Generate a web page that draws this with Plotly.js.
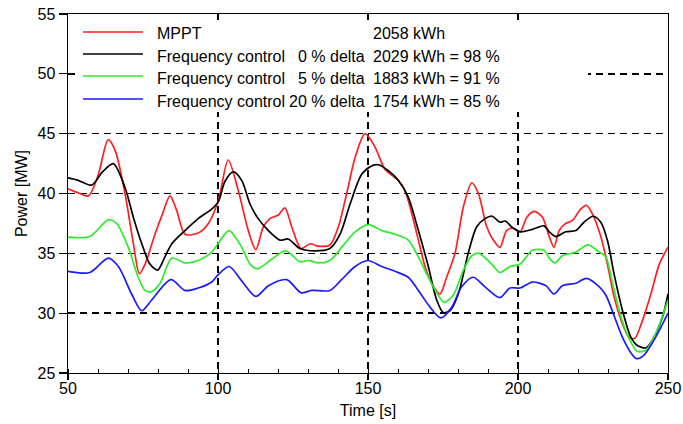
<!DOCTYPE html>
<html>
<head>
<meta charset="utf-8">
<script src="https://cdn.plot.ly/plotly-3.0.1.min.js"></script>
<style>html,body{margin:0;padding:0;background:#fff;}#chart{width:683px;height:424px;}</style>
</head>
<body>
<div id="chart"></div>
<script>
// ---- Data ----
const seriesNames = ['MPPT', 'Frequency control', 'Frequency control', 'Frequency control'];
const deltaLabels = ['', '0 % delta', '5 % delta', '20 % delta'];
const energyLabels = ['2058 kWh', '2029 kWh = 98 %', '1883 kWh = 91 %', '1754 kWh = 85 %'];
const seriesColors = ['#ff1f1f', '#000000', '#2cec2c', '#1a1aff'];

const tRed = [50, 53, 56.8, 60, 63.4, 65.7, 69, 71.8, 73.8, 75.7, 79, 81.5, 84, 86.2, 89, 93.4, 96.8, 100.1, 103.4, 106.8, 110.1, 112.6, 115.1, 117.3, 120.1, 122.3, 124.6, 127.7, 130.7, 133.4, 137.3, 140.1, 142.9, 145.7, 149, 152.3, 155.7, 160.1, 162.3, 164.6, 166.8, 169, 171.2, 174, 176.2, 179, 181.8, 184.6, 186.8, 189.6, 191.8, 194, 196.2, 198.4, 200.7, 202.9, 205.4, 208.2, 210.4, 212, 213.7, 215.9, 218.2, 220.9, 222.9, 224.8, 227.6, 229.8, 232, 234.8, 237, 238.9, 241.5, 244.3, 247.1, 250];
const pRed = [40.4, 40.1, 39.8, 41.5, 44.5, 43.6, 40, 35.8, 33.3, 34.1, 36.6, 38.3, 39.8, 38.6, 36.6, 36.7, 37.5, 39.4, 42.8, 40.2, 36.9, 35.3, 37.2, 37.9, 38.2, 38.8, 37.2, 35.4, 35.8, 35.6, 35.7, 37.2, 40, 43, 45, 43.9, 42.0, 41.1, 40.25, 38.3, 36.1, 33.9, 32.5, 31.6, 33, 35, 38.9, 40.9, 40, 37.2, 36.1, 35.5, 36.9, 37.1, 36.8, 38, 38.5, 38, 36.4, 35.5, 36.9, 37.5, 37.75, 38.7, 39, 38.3, 36.4, 34.1, 31.4, 29.1, 28, 27.9, 29.4, 31.6, 34.1, 35.5];

const tBlack = [50, 53.4, 57.9, 61.5, 65.1, 69, 71.8, 74.6, 77.3, 79.9, 82.3, 84.6, 89, 93.4, 97.9, 100.1, 102.3, 105.1, 107.9, 110.7, 113.4, 116.8, 120.7, 123.4, 127.3, 132.3, 137.3, 140.7, 144, 147.9, 151.2, 153.4, 156.8, 160.1, 163.4, 166.8, 170.1, 172.9, 175.1, 177.3, 180.1, 183.4, 186.2, 189, 191.4, 194, 195.7, 198.4, 200.7, 204.8, 208.7, 210.4, 212.6, 215.9, 219.3, 222, 225.1, 227.6, 229.8, 232, 234.8, 237.6, 239.8, 242.6, 244.8, 248.2, 250];
const pBlack = [41.3, 41.1, 40.7, 41.8, 42.5, 40.5, 38, 35.8, 34.1, 33.6, 34.7, 35.8, 36.9, 37.9, 38.7, 39.3, 41.0, 41.8, 41.1, 39.1, 37.9, 36.9, 36.1, 36.2, 35.4, 35.2, 35.4, 36.6, 39.1, 41.6, 42.3, 42.4, 41.9, 41.1, 39.7, 36.9, 33.9, 31.1, 30.05, 30.2, 31.6, 35, 37.2, 37.9, 38.1, 37.6, 37.7, 37.1, 36.8, 37, 37.3, 36.8, 36.4, 36.8, 36.9, 37.6, 38.1, 37.6, 36.1, 33.3, 30.25, 28, 27.3, 27.1, 27.75, 29.7, 31.6];

const tGreen = [50, 57.3, 63.4, 66.2, 70.1, 73.4, 75.7, 77.9, 80.7, 84.6, 89, 93.4, 97.9, 100, 103.7, 107.9, 110.7, 113.2, 117.9, 122.6, 127.3, 130.1, 133.4, 137.3, 141.2, 145.7, 150.1, 154.6, 159, 163.4, 166.8, 170.1, 173.4, 175.4, 178.4, 181.8, 184.6, 187, 191.2, 194, 197.3, 200.7, 204.8, 208.7, 210.4, 212.3, 214.8, 219.3, 223.2, 227.1, 229.3, 231.5, 234.3, 237, 239.8, 242.6, 245.9, 250];
const pGreen = [36.36, 36.4, 37.8, 37.5, 35.5, 33, 31.9, 31.8, 32.5, 34.6, 34.2, 34.4, 35.1, 35.8, 36.9, 35.5, 34.1, 33.7, 34.5, 35.2, 34.3, 34.4, 34.2, 34.4, 35.5, 36.8, 37.4, 36.9, 36.6, 36.1, 34.7, 33, 31.5, 30.9, 31.5, 33.6, 34.8, 35, 34.1, 33.4, 33.9, 34.1, 35.25, 35.25, 34.6, 34.2, 34.8, 35.1, 35.7, 35.1, 34.7, 32.5, 29.7, 27.9, 26.8, 26.9, 28.3, 31.1];

const tBlue = [50, 57.3, 63.4, 66.8, 71.2, 74.6, 77.9, 84.3, 89, 93.4, 97.9, 100, 103.7, 107.9, 112.6, 116.8, 122.9, 127.7, 131.2, 137.3, 141.2, 145.7, 149.9, 154.6, 159, 163.4, 166.8, 170.1, 174.3, 177.9, 181.2, 185.1, 189, 194, 197.3, 200.7, 204.8, 209.3, 212, 214.8, 219.3, 222.8, 227.1, 229.3, 232, 234.8, 237.6, 239.5, 242, 245.9, 250];
const pBlue = [33.5, 33.4, 34.6, 33.9, 31.6, 30.2, 31.1, 32.8, 31.9, 32.1, 32.6, 33.2, 33.9, 32.7, 31.4, 32.3, 32.8, 31.7, 31.9, 31.9, 32.8, 33.9, 34.4, 33.9, 33.5, 33, 31.9, 30.7, 29.6, 30.5, 32.2, 33, 32.2, 31.3, 32.1, 32.1, 32.6, 32.3, 31.6, 32.3, 32.5, 32.9, 32.2, 31.5, 29.8, 28, 26.7, 26.2, 26.5, 28, 30];

const xTicks = [50, 100, 150, 200, 250];
const yTicks = [25, 30, 35, 40, 45, 50, 55];

// ---- Layout geometry (pixels) ----
const W = 683, H = 424;
const L = 68, R = 15, T = 14, B = 51;
const pw = W - L - R, ph = H - T - B;
const px = v => (v - L) / pw;          // pixel x -> paper
const py = v => (H - B - v) / ph;      // pixel y -> paper

const font = 'Liberation Sans, Arial, Helvetica, sans-serif';
const ts = [tRed, tBlack, tGreen, tBlue];
const ps = [pRed, pBlack, pGreen, pBlue];

const traces = ts.map((t, i) => ({
  type: 'scatter', mode: 'lines', x: t, y: ps[i],
  name: seriesNames[i] + ' ' + deltaLabels[i],
  line: {color: seriesColors[i], width: 1.7, shape: 'spline', smoothing: 0.8},
  showlegend: false, hoverinfo: 'skip'
}));

// custom legend box
const rowLineY = [32, 54, 76, 99];
const rowTextY = [33.5, 56, 78.5, 101];
const shapes = [{
  type: 'rect', xref: 'paper', yref: 'paper', layer: 'above',
  x0: px(78), x1: px(588), y0: py(112), y1: py(20),
  fillcolor: '#ffffff', line: {width: 0}
}];
const annotations = [];
for (let i = 0; i < 4; i++) {
  shapes.push({type: 'line', xref: 'paper', yref: 'paper', layer: 'above',
    x0: px(83), x1: px(143), y0: py(rowLineY[i]), y1: py(rowLineY[i]),
    line: {color: seriesColors[i], width: 1.7}});
  annotations.push({xref: 'paper', yref: 'paper', x: px(155), y: py(rowTextY[i]),
    xanchor: 'left', yanchor: 'middle', showarrow: false, text: seriesNames[i],
    font: {family: font, size: 16, color: '#000'}});
  if (deltaLabels[i]) annotations.push({xref: 'paper', yref: 'paper', x: px(367), y: py(rowTextY[i]),
    xanchor: 'right', yanchor: 'middle', showarrow: false, text: deltaLabels[i],
    font: {family: font, size: 16, color: '#000'}});
  annotations.push({xref: 'paper', yref: 'paper', x: px(371), y: py(rowTextY[i]),
    xanchor: 'left', yanchor: 'middle', showarrow: false, text: energyLabels[i],
    font: {family: font, size: 16, color: '#000'}});
}

const layout = {
  width: W, height: H,
  margin: {l: L, r: R, t: T, b: B, pad: 0},
  paper_bgcolor: '#fff', plot_bgcolor: '#fff',
  font: {family: font, size: 16, color: '#000'},
  showlegend: false,
  xaxis: {
    range: [50, 250], tickvals: xTicks, ticktext: xTicks.map(String),
    ticks: 'outside', ticklen: 6, tickwidth: 1.2, tickcolor: '#000',
    ticklabelstandoff: -6,
    showline: true, linecolor: '#000', linewidth: 1.4, mirror: true,
    showgrid: true, gridcolor: '#000', gridwidth: 1.6, griddash: '7px,5px',
    zeroline: false,
    minor: {ticks: 'inside', ticklen: 4, dtick: 10, tick0: 50, tickcolor: '#000', tickwidth: 1, showgrid: false},
    tickfont: {family: font, size: 16},
    title: {text: 'Time [s]', font: {family: font, size: 16}, standoff: 9}
  },
  yaxis: {
    range: [25, 55], tickvals: yTicks, ticktext: yTicks.map(String),
    ticks: 'outside', ticklen: 8, tickwidth: 1.2, tickcolor: '#000',
    showline: true, linecolor: '#000', linewidth: 1.4, mirror: true,
    showgrid: true, gridcolor: '#000', gridwidth: 1.6, griddash: '7px,5px',
    zeroline: false,
    tickfont: {family: font, size: 16},
    title: {text: 'Power [MW]', font: {family: font, size: 16}, standoff: 6}
  },
  shapes: shapes,
  annotations: annotations
};

Plotly.newPlot('chart', traces, layout, {displayModeBar: false, staticPlot: true});
</script>
</body>
</html>
